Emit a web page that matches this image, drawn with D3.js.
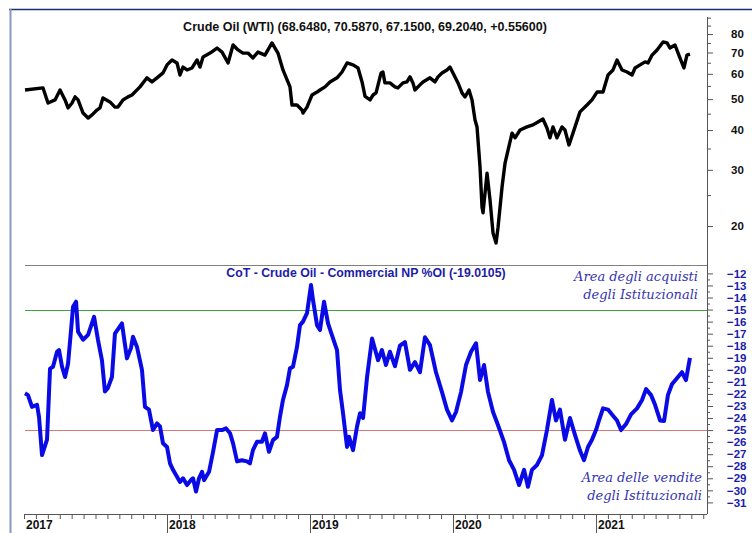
<!DOCTYPE html>
<html>
<head>
<meta charset="utf-8">
<script src="https://cdnjs.cloudflare.com/ajax/libs/d3/7.8.5/d3.min.js"></script>
<style>
  body { margin: 0; background: #fff; }
  text { font-family: "Liberation Sans", Arial, sans-serif; }
</style>
</head>
<body>
<div id="chart"></div>
<script>
// weekly closes, dates as decimal years
var oilYears = [2017.007, 2017.133, 2017.168, 2017.217, 2017.252, 2017.287, 2017.308, 2017.336, 2017.357, 2017.378,
  2017.413, 2017.448, 2017.476, 2017.510, 2017.531, 2017.552, 2017.601, 2017.636, 2017.657, 2017.692,
  2017.727, 2017.755, 2017.811, 2017.860, 2017.895, 2017.930, 2017.972, 2018.000, 2018.035, 2018.070,
  2018.091, 2018.112, 2018.140, 2018.175, 2018.210, 2018.231, 2018.252, 2018.301, 2018.350, 2018.385,
  2018.427, 2018.462, 2018.497, 2018.531, 2018.566, 2018.601, 2018.636, 2018.685, 2018.734, 2018.776,
  2018.811, 2018.860, 2018.874, 2018.909, 2018.944, 2018.951, 2018.979, 2019.014, 2019.049, 2019.070,
  2019.105, 2019.140, 2019.189, 2019.224, 2019.259, 2019.301, 2019.336, 2019.364, 2019.385, 2019.420,
  2019.441, 2019.462, 2019.497, 2019.510, 2019.524, 2019.559, 2019.594, 2019.615, 2019.650, 2019.678,
  2019.699, 2019.720, 2019.734, 2019.769, 2019.790, 2019.839, 2019.874, 2019.895, 2019.923, 2019.958,
  2019.979, 2020.000, 2020.035, 2020.063, 2020.084, 2020.112, 2020.133, 2020.154, 2020.168, 2020.189,
  2020.203, 2020.210, 2020.238, 2020.259, 2020.280, 2020.301, 2020.315, 2020.343, 2020.364, 2020.385,
  2020.413, 2020.434, 2020.469, 2020.517, 2020.559, 2020.594, 2020.629, 2020.657, 2020.678, 2020.699,
  2020.727, 2020.762, 2020.783, 2020.811, 2020.839, 2020.888, 2020.937, 2020.972, 2021.007, 2021.049,
  2021.084, 2021.119, 2021.147, 2021.182, 2021.217, 2021.252, 2021.273, 2021.308, 2021.343, 2021.364,
  2021.392, 2021.427, 2021.469, 2021.497, 2021.517, 2021.552, 2021.587, 2021.615, 2021.636, 2021.657];

var oilPrices = [53.4, 54.2, 48.6, 49.7, 53.4, 49.7, 46.9, 48.6, 50.8, 49.7,
  45.2, 43.6, 44.6, 46.2, 46.9, 50.4, 49.0, 47.2, 47.2, 49.7,
  50.8, 51.5, 54.6, 58.3, 56.6, 58.3, 60.4, 64.0, 66.3, 64.9,
  59.5, 63.0, 61.7, 62.6, 66.3, 63.0, 67.8, 69.7, 72.3, 70.2,
  64.9, 73.9, 71.3, 69.7, 69.7, 67.3, 70.2, 68.7, 75.0, 69.7,
  61.7, 54.6, 47.9, 47.9, 46.2, 45.2, 47.2, 51.5, 52.6, 53.4,
  54.6, 56.6, 58.3, 60.8, 64.9, 64.0, 62.6, 56.6, 51.0, 49.7,
  51.5, 52.3, 60.4, 60.8, 56.2, 56.2, 54.6, 54.2, 56.2, 56.6,
  58.7, 56.2, 53.4, 55.4, 56.6, 58.3, 56.6, 58.7, 60.4, 61.7,
  63.0, 60.4, 56.2, 52.3, 50.8, 53.4, 49.7, 43.0, 40.9, 30.6,
  22.9, 22.0, 29.3, 24.1, 19.0, 17.7, 19.8, 26.5, 31.5, 34.6,
  39.1, 37.8, 40.0, 40.9, 41.5, 42.4, 43.3, 40.6, 37.8, 40.9,
  37.8, 40.9, 40.0, 35.9, 39.1, 45.6, 47.9, 49.7, 52.6, 52.6,
  59.5, 61.7, 66.3, 61.7, 60.8, 59.5, 62.6, 64.0, 65.4, 64.9,
  68.7, 71.3, 75.5, 75.0, 72.3, 73.9, 67.3, 62.6, 68.7, 69.2];

var cotYears = [2017.007, 2017.028, 2017.056, 2017.091, 2017.105, 2017.126, 2017.161, 2017.182, 2017.203, 2017.231,
  2017.245, 2017.266, 2017.287, 2017.308, 2017.329, 2017.343, 2017.364, 2017.378, 2017.413, 2017.448,
  2017.490, 2017.517, 2017.545, 2017.566, 2017.587, 2017.615, 2017.636, 2017.685, 2017.720, 2017.748,
  2017.762, 2017.790, 2017.825, 2017.846, 2017.874, 2017.902, 2017.930, 2017.951, 2017.972, 2018.000,
  2018.021, 2018.042, 2018.091, 2018.112, 2018.140, 2018.168, 2018.182, 2018.203, 2018.224, 2018.245,
  2018.259, 2018.294, 2018.322, 2018.350, 2018.385, 2018.413, 2018.441, 2018.462, 2018.490, 2018.524,
  2018.559, 2018.580, 2018.601, 2018.629, 2018.664, 2018.685, 2018.713, 2018.741, 2018.769, 2018.790,
  2018.811, 2018.839, 2018.860, 2018.881, 2018.909, 2018.930, 2018.951, 2018.979, 2019.007, 2019.021,
  2019.049, 2019.070, 2019.098, 2019.126, 2019.161, 2019.189, 2019.210, 2019.231, 2019.259, 2019.273,
  2019.301, 2019.329, 2019.350, 2019.371, 2019.399, 2019.434, 2019.476, 2019.503, 2019.531, 2019.559,
  2019.594, 2019.629, 2019.664, 2019.699, 2019.734, 2019.769, 2019.804, 2019.839, 2019.881, 2019.923,
  2019.958, 2019.993, 2020.021, 2020.056, 2020.091, 2020.126, 2020.161, 2020.189, 2020.217, 2020.245,
  2020.280, 2020.315, 2020.357, 2020.392, 2020.427, 2020.462, 2020.497, 2020.524, 2020.552, 2020.587,
  2020.622, 2020.657, 2020.692, 2020.720, 2020.748, 2020.783, 2020.818, 2020.853, 2020.888, 2020.916,
  2020.944, 2020.972, 2021.000, 2021.021, 2021.049, 2021.084, 2021.112, 2021.147, 2021.175, 2021.210,
  2021.245, 2021.287, 2021.322, 2021.350, 2021.385, 2021.413, 2021.448, 2021.476, 2021.503, 2021.531,
  2021.566, 2021.601, 2021.629, 2021.657];

var cotValues = [-21.95, -22.1, -23.07, -22.9, -23.9, -27.07, -25.8, -19.9, -19.75, -18.5,
  -18.36, -19.75, -20.6, -19.5, -16.7, -14.77, -14.35, -16.84, -17.5, -17.1,
  -15.6, -17.5, -19.2, -21.8, -21.5, -20.6, -17.0, -16.15, -19.05, -18.2,
  -17.26, -18.1, -20.0, -23.07, -23.3, -25.0, -24.45, -24.7, -26.1, -26.4,
  -27.76, -28.3, -29.3, -29.0, -29.56, -29.15, -29.0, -30.1, -29.0, -28.46,
  -29.15, -28.46, -26.8, -25.0, -25.0, -24.86, -25.27, -26.1, -27.6, -27.5,
  -27.6, -27.76, -26.66, -25.97, -25.97, -25.27, -26.8, -25.83, -25.56, -23.9,
  -22.5, -21.27, -19.88, -19.75, -18.1, -16.29, -16.0, -15.3, -12.97, -14.2,
  -16.29, -16.7, -14.35, -16.15, -17.4, -18.36, -21.7, -23.6, -26.4, -25.56,
  -26.66, -24.7, -23.6, -24.0, -20.6, -17.4, -19.2, -18.36, -19.6, -18.5,
  -19.7, -18.0, -17.7, -20.0, -19.36, -20.2, -17.3, -17.95, -20.2, -21.85,
  -23.3, -24.2, -23.5, -21.85, -19.6, -18.5, -17.8, -20.85, -19.6, -21.85,
  -23.5, -24.6, -26.0, -27.5, -28.3, -29.56, -28.3, -29.7, -28.3, -27.9,
  -27.1, -25.0, -22.5, -24.2, -23.3, -25.8, -24.0, -25.4, -26.7, -27.5,
  -26.4, -25.8, -25.0, -24.2, -23.2, -23.3, -23.7, -24.2, -25.0, -24.5,
  -23.7, -23.2, -22.5, -21.6, -22.1, -22.9, -24.2, -24.25, -22.1, -21.2,
  -20.7, -20.2, -20.85, -19.0105];

var oilTicks = [20, 30, 40, 50, 60, 70, 80];
var oilMinorTicks = [25, 35, 45, 55, 65, 75, 85, 90];
var cotTicks = [-12, -13, -14, -15, -16, -17, -18, -19, -20, -21, -22, -23, -24, -25, -26, -27, -28, -29, -30, -31];
var years = [2017, 2018, 2019, 2020, 2021];
var buyLevel = -15;
var sellLevel = -25;

var oilTitle = 'Crude Oil (WTI) (68.6480, 70.5870, 67.1500, 69.2040, +0.55600)';
var cotTitle = 'CoT - Crude Oil - Commercial NP %OI (-19.0105)';

var svg, x, yOil, yCot, line, months;

svg = d3.select('#chart')
  .append('svg')
  .attr('width', 752)
  .attr('height', 533);

x = d3.scaleLinear().domain([2017, 2021]).range([24, 596]);
yOil = d3.scaleLog().domain([20, 80]).range([226, 34]);
yCot = d3.scaleLinear().domain([-12, -31]).range([273.4, 502.4]);

// frame
svg.append('line')
  .attr('x1', 9).attr('x2', 752).attr('y1', 9.5).attr('y2', 9.5)
  .attr('stroke', '#1c2f6e').attr('stroke-width', 1.5);
svg.append('line')
  .attr('x1', 10.5).attr('x2', 10.5).attr('y1', 9).attr('y2', 533)
  .attr('stroke', '#8797c0').attr('stroke-width', 2);

// panel separator and reference levels
svg.append('line')
  .attr('x1', 25).attr('x2', 707).attr('y1', 265.5).attr('y2', 265.5)
  .attr('stroke', '#808080').attr('stroke-width', 1);
svg.append('line')
  .attr('x1', 25).attr('x2', 707)
  .attr('y1', Math.round(yCot(buyLevel)) + 0.5).attr('y2', Math.round(yCot(buyLevel)) + 0.5)
  .attr('stroke', '#3da63d').attr('stroke-width', 1);
svg.append('line')
  .attr('x1', 25).attr('x2', 707)
  .attr('y1', Math.round(yCot(sellLevel)) + 0.5).attr('y2', Math.round(yCot(sellLevel)) + 0.5)
  .attr('stroke', '#d67a7a').attr('stroke-width', 1);

// right axes
function styleAxis(g, color) {
  g.select('.domain').remove();
  g.selectAll('line').attr('stroke', '#555');
  g.selectAll('text')
    .attr('fill', color)
    .style('font-size', '11.5px')
    .style('font-weight', 'bold');
}

svg.append('g')
  .attr('transform', 'translate(707,0)')
  .call(d3.axisRight(yOil).tickValues(oilTicks).tickSize(6).tickPadding(18).tickFormat(d3.format('d')))
  .call(styleAxis, '#111');
svg.append('g')
  .attr('transform', 'translate(707,0)')
  .call(d3.axisRight(yOil).tickValues(oilMinorTicks).tickSize(4).tickFormat(''))
  .call(styleAxis, '#111');

svg.append('g')
  .attr('transform', 'translate(707,0)')
  .call(d3.axisRight(yCot).tickValues(cotTicks).tickSize(6).tickPadding(14))
  .call(styleAxis, '#1c1ca8');
svg.append('g')
  .attr('transform', 'translate(707,0)')
  .call(d3.axisRight(yCot).tickValues(cotTicks.slice(1).map(function (d) { return d + 0.5; })).tickSize(3).tickFormat(''))
  .call(styleAxis, '#1c1ca8');

svg.append('line')
  .attr('x1', 707.5).attr('x2', 707.5).attr('y1', 17).attr('y2', 514)
  .attr('stroke', '#555').attr('stroke-width', 1);

// bottom time axis
months = d3.range(0, 58).map(function (m) { return 2017 + m / 12; });

svg.append('g')
  .attr('transform', 'translate(0,514)')
  .call(d3.axisBottom(x).tickValues(months).tickSize(5).tickFormat(''))
  .call(function (g) {
    g.select('.domain').remove();
    g.selectAll('line').attr('stroke', '#555');
  });
svg.append('g')
  .attr('transform', 'translate(0,514)')
  .call(d3.axisBottom(x).tickValues(years.slice(1)).tickSize(19).tickFormat(''))
  .call(function (g) {
    g.select('.domain').remove();
    g.selectAll('line').attr('stroke', '#555');
  });
svg.append('line')
  .attr('x1', 24).attr('x2', 707).attr('y1', 514.5).attr('y2', 514.5)
  .attr('stroke', '#555').attr('stroke-width', 1);

svg.selectAll('.year-label')
  .data(years)
  .enter()
  .append('text')
  .attr('class', 'year-label')
  .attr('x', function (d) { return x(d) + 2; })
  .attr('y', 529)
  .style('font-size', '12px')
  .style('font-weight', 'bold')
  .attr('fill', '#111')
  .text(function (d) { return d; });

// series
line = d3.line().curve(d3.curveLinear);

svg.append('path')
  .attr('d', line(oilYears.map(function (t, i) { return [x(t), yOil(oilPrices[i])]; })))
  .attr('fill', 'none')
  .attr('stroke', '#000')
  .attr('stroke-width', 3.4)
  .attr('stroke-linejoin', 'round');

svg.append('path')
  .attr('d', line(cotYears.map(function (t, i) { return [x(t), yCot(cotValues[i])]; })))
  .attr('fill', 'none')
  .attr('stroke', '#0a0ae6')
  .attr('stroke-width', 4)
  .attr('stroke-linejoin', 'round');

// titles
svg.append('text')
  .attr('x', 365).attr('y', 31)
  .attr('text-anchor', 'middle')
  .style('font-size', '12.5px')
  .style('font-weight', 'bold')
  .attr('fill', '#111')
  .text(oilTitle);

svg.append('text')
  .attr('x', 366).attr('y', 277)
  .attr('text-anchor', 'middle')
  .style('font-size', '12.3px')
  .style('font-weight', 'bold')
  .attr('fill', '#1c1ca8')
  .text(cotTitle);

// notes
function note(lines, xr, y0) {
  svg.append('text')
    .attr('text-anchor', 'end')
    .style('font-family', '"DejaVu Serif", serif')
    .style('font-style', 'italic')
    .style('font-size', '13px')
    .attr('fill', '#3434b0')
    .selectAll('tspan')
    .data(lines)
    .enter()
    .append('tspan')
    .attr('x', xr)
    .attr('y', function (d, i) { return y0 + i * 18; })
    .text(function (d) { return d; });
}

note(['Area degli acquisti', 'degli Istituzionali'], 698, 281);
note(['Area delle vendite', 'degli Istituzionali'], 702, 482);
</script>
</body>
</html>
